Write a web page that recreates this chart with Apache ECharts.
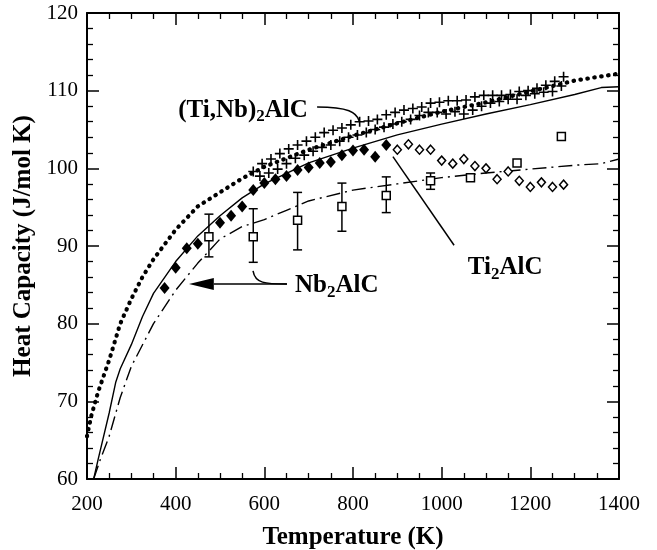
<!DOCTYPE html>
<html><head><meta charset="utf-8">
<script src="https://cdn.jsdelivr.net/npm/echarts@6/dist/echarts.min.js"></script>
<style>html,body{margin:0;padding:0;background:#fff}#c{width:657px;height:550px}</style>
</head><body><div id="c"></div>
<script>
// ---- data ----
const xTicks = [200, 400, 600, 800, 1000, 1200, 1400];
const yTicks = [60, 70, 80, 90, 100, 110, 120];

// dotted curve ((Ti,Nb)2AlC calc.)
const dotT = [200, 210, 225, 250, 275, 300, 325, 350, 400, 450, 500, 550, 600, 700, 800, 900, 1000, 1100, 1200, 1300, 1400];
const dotC = [65.5, 68.2, 71.2, 75.3, 80.0, 83.2, 86.0, 88.3, 92.1, 95.1, 96.9, 98.7, 100.2, 102.4, 104.2, 105.8, 107.3, 108.5, 109.9, 111.3, 112.2];

// solid curve (Ti2AlC calc.)
const solT = [215, 225, 250, 265, 275, 300, 325, 350, 400, 450, 500, 550, 600, 700, 800, 900, 1000, 1100, 1200, 1300, 1360, 1400];
const solC = [60.0, 62.5, 68.5, 72.5, 74.2, 77.3, 80.9, 83.9, 88.0, 91.3, 93.9, 96.2, 98.0, 100.7, 102.6, 104.3, 105.7, 107.0, 108.2, 109.5, 110.4, 110.5];

// dash-dot curve (Nb2AlC calc.)
const ddT = [215, 230, 250, 275, 300, 350, 400, 450, 500, 550, 600, 650, 700, 800, 900, 1000, 1100, 1200, 1300, 1360, 1400];
const ddC = [60.0, 62.5, 65.5, 70.5, 74.5, 80.0, 84.3, 87.8, 90.9, 92.5, 93.4, 94.6, 95.8, 97.2, 98.0, 98.8, 99.4, 99.9, 100.4, 100.6, 101.2];

// Ti2AlC measured (filled diamonds)
const tiT = [375, 400, 425, 450, 500, 525, 550, 575, 600, 625, 650, 675, 700, 725, 750, 775, 800, 825, 850, 875];
const tiC = [84.6, 87.2, 89.7, 90.3, 93.0, 93.9, 95.1, 97.2, 98.1, 98.6, 99.0, 99.8, 100.1, 100.7, 100.8, 101.7, 102.3, 102.4, 101.5, 103.0];

// Ti2AlC measured, high temperature (open diamonds)
const tiHT = [900, 925, 950, 975, 1000, 1025, 1050, 1075, 1100, 1125, 1150, 1175, 1200, 1225, 1250, 1275];
const tiHC = [102.4, 103.1, 102.4, 102.4, 101.0, 100.6, 101.2, 100.3, 100.0, 98.6, 99.6, 98.4, 97.6, 98.2, 97.6, 97.9];

// Nb2AlC measured (open squares with error bars)
const nbT = [475, 575, 675, 775, 875, 975, 1065, 1170, 1270];
const nbC = [91.2, 91.2, 93.3, 95.1, 96.5, 98.4, 98.8, 100.7, 104.1];
const nbLow = [88.6, 87.9, 89.5, 91.9, 94.3, 97.3, null, null, null];
const nbHigh = [94.1, 94.8, 96.9, 98.1, 98.9, 99.4, null, null, null];

// (Ti,Nb)2AlC measured (plus markers), two runs
const tnAT = [575, 595, 615, 635, 655, 675, 695, 715, 735, 755, 775, 795, 815, 835, 855, 875, 895, 915, 935, 955, 975, 995, 1015, 1035, 1055, 1075, 1095, 1115, 1135, 1155, 1175, 1195, 1215, 1235, 1255, 1275];
const tnAC = [99.6, 100.6, 101.2, 101.9, 102.5, 103.0, 103.5, 104.0, 104.6, 104.9, 105.2, 105.6, 106.0, 106.1, 106.3, 106.9, 107.2, 107.5, 107.7, 107.9, 108.4, 108.5, 108.7, 108.7, 108.8, 109.2, 109.4, 109.4, 109.4, 109.5, 109.9, 110.0, 110.3, 110.7, 111.2, 111.8];
const tnBT = [590, 610, 630, 650, 670, 690, 710, 730, 750, 770, 790, 810, 830, 850, 870, 890, 910, 930, 950, 970, 990, 1010, 1030, 1050, 1070, 1090, 1110, 1130, 1150, 1170, 1190, 1210, 1230, 1250, 1270];
const tnBC = [99.0, 99.4, 99.9, 100.6, 101.3, 101.7, 102.2, 102.7, 103.0, 103.5, 104.0, 104.3, 104.6, 105.0, 105.3, 105.7, 106.0, 106.3, 106.8, 107.2, 107.2, 107.0, 107.3, 107.0, 107.5, 108.0, 108.4, 108.6, 108.9, 108.9, 109.4, 109.6, 109.8, 109.9, 110.6];

// ---- chart ----
const pair = (xs, ys) => xs.map((x, i) => [x, ys[i]]);
const FONT = 'Liberation Serif';
const chart = echarts.init(document.getElementById('c'), null, {renderer: 'canvas'});

function axisX(pos, labels) {
  return {
    type: 'value', position: pos, min: xTicks[0], max: xTicks[xTicks.length - 1], interval: 200,
    axisLine: {show: true, onZero: false, lineStyle: {color: '#000', width: 2}},
    axisTick: {show: true, inside: true, length: 12, lineStyle: {color: '#000', width: 1.5}},
    minorTick: {show: true, splitNumber: 4, length: 6, lineStyle: {color: '#000', width: 1.3}},
    splitLine: {show: false},
    axisLabel: {show: labels, color: '#000', fontFamily: FONT, fontSize: 21, margin: 15,
                formatter: v => String(v)},
    name: labels ? 'Temperature (K)' : '', nameLocation: 'middle', nameGap: 46,
    nameTextStyle: {color: '#000', fontFamily: FONT, fontWeight: 'bold', fontSize: 25}
  };
}
function axisY(pos, labels) {
  return {
    type: 'value', position: pos, min: yTicks[0], max: yTicks[yTicks.length - 1], interval: 10,
    axisLine: {show: true, onZero: false, lineStyle: {color: '#000', width: 2}},
    axisTick: {show: true, inside: true, length: 12, lineStyle: {color: '#000', width: 1.5}},
    minorTick: {show: true, splitNumber: 5, length: 6, lineStyle: {color: '#000', width: 1.3}},
    splitLine: {show: false},
    axisLabel: {show: labels, color: '#000', fontFamily: FONT, fontSize: 21, margin: 9,
                formatter: v => String(v)},
    name: labels ? 'Heat Capacity (J/mol K)' : '', nameLocation: 'middle', nameGap: 40, nameRotate: 90,
    nameTextStyle: {color: '#000', fontFamily: FONT, fontWeight: 'bold', fontSize: 25}
  };
}

const plusPath = 'path://M4.2,0H5.8V4.2H10V5.8H5.8V10H4.2V5.8H0V4.2H4.2Z';

chart.setOption({
  animation: false,
  backgroundColor: '#fff',
  grid: {left: 87, right: 38, top: 13, bottom: 71, containLabel: false, outerBoundsMode: 'none'},
  xAxis: [axisX('bottom', true), axisX('top', false)],
  yAxis: [axisY('left', true), axisY('right', false)],
  series: [
    {type: 'line', data: pair(dotT, dotC), showSymbol: false, z: 2,
     lineStyle: {color: '#000', width: 4.2, type: [0.5, 6.5], cap: 'round', opacity: 1}},
    {type: 'line', data: pair(solT, solC), showSymbol: false, z: 2,
     lineStyle: {color: '#000', width: 1.4, opacity: 1}},
    {type: 'line', data: pair(ddT, ddC), showSymbol: false, z: 2,
     lineStyle: {color: '#000', width: 1.4, type: [14, 5, 2, 5], opacity: 1}},
    {type: 'custom', z: 3,
     data: nbT.map((t, i) => [t, nbLow[i], nbHigh[i]]).filter(d => d[1] != null),
     encode: {x: 0, y: [1, 2]},
     renderItem: function (params, api) {
       const lo = api.coord([api.value(0), api.value(1)]);
       const hi = api.coord([api.value(0), api.value(2)]);
       const w = 4.5, st = {stroke: '#000', lineWidth: 1.5};
       return {type: 'group', children: [
         {type: 'line', shape: {x1: lo[0], y1: lo[1], x2: hi[0], y2: hi[1]}, style: st},
         {type: 'line', shape: {x1: lo[0] - w, y1: lo[1], x2: lo[0] + w, y2: lo[1]}, style: st},
         {type: 'line', shape: {x1: hi[0] - w, y1: hi[1], x2: hi[0] + w, y2: hi[1]}, style: st}
       ]};
     }},
    {type: 'scatter', data: pair(nbT, nbC), symbol: 'rect', symbolSize: 8, z: 4,
     itemStyle: {color: '#fff', borderColor: '#000', borderWidth: 1.5, opacity: 1}},
    {type: 'scatter', data: pair(tnAT, tnAC), symbol: plusPath, symbolSize: 10, z: 4,
     itemStyle: {color: '#000', opacity: 1}},
    {type: 'scatter', data: pair(tnBT, tnBC), symbol: plusPath, symbolSize: 10, z: 4,
     itemStyle: {color: '#000', opacity: 1}},
    {type: 'scatter', data: pair(tiT, tiC), symbol: 'diamond', symbolSize: [10, 12], z: 5,
     itemStyle: {color: '#000', opacity: 1}},
    {type: 'scatter', data: pair(tiHT, tiHC), symbol: 'diamond', symbolSize: [8, 9], z: 5,
     itemStyle: {color: '#fff', borderColor: '#000', borderWidth: 1.5, opacity: 1}}
  ]
});

// ---- annotations (anchored in data coordinates) ----
const P = (t, c) => chart.convertToPixel({xAxisIndex: 0, yAxisIndex: 0}, [t, c]);
const rich = {
  m: {fontFamily: FONT, fontWeight: 'bold', fontSize: 25, lineHeight: 30, fill: '#000'},
  s: {fontFamily: FONT, fontWeight: 'bold', fontSize: 17, lineHeight: 17, verticalAlign: 'bottom', fill: '#000'}
};
function label(text, pt, align) {
  return {type: 'text', x: pt[0], y: pt[1], z: 10,
    style: {text: text, rich: rich, align: align, verticalAlign: 'middle', fill: '#000'}};
}
function curve(a, c1, c2, b) {
  const A = P(a[0], a[1]), C1 = P(c1[0], c1[1]), C2 = P(c2[0], c2[1]), B = P(b[0], b[1]);
  return {type: 'bezierCurve', z: 10,
    shape: {x1: A[0], y1: A[1], cpx1: C1[0], cpy1: C1[1], cpx2: C2[0], cpy2: C2[1], x2: B[0], y2: B[1]},
    style: {stroke: '#000', lineWidth: 1.5, fill: null}};
}
function seg(a, b) {
  const A = P(a[0], a[1]), B = P(b[0], b[1]);
  return {type: 'line', z: 10, shape: {x1: A[0], y1: A[1], x2: B[0], y2: B[1]}, style: {stroke: '#000', lineWidth: 1.5}};
}
const tip = P(430, 85.1), base = P(486, 85.1);
chart.setOption({graphic: [
  label('{m|(Ti,Nb)}{s|2}{m|AlC}', P(698, 107.5), 'right'),
  curve([719, 107.9], [790, 107.9], [808, 107.2], [814, 106.1]),
  label('{m|Ti}{s|2}{m|AlC}', P(1059, 87.2), 'left'),
  seg([890, 101.5], [1028, 90.1]),
  label('{m|Nb}{s|2}{m|AlC}', P(669, 84.85), 'left'),
  curve([574.5, 86.8], [579, 85.2], [601.5, 85.1], [651, 85.1]),
  seg([651, 85.1], [486, 85.1]),
  {type: 'polygon', z: 10, shape: {points: [tip, [base[0], base[1] - 6], [base[0], base[1] + 6]]}, style: {fill: '#000'}}
]});
</script>
</body></html>
